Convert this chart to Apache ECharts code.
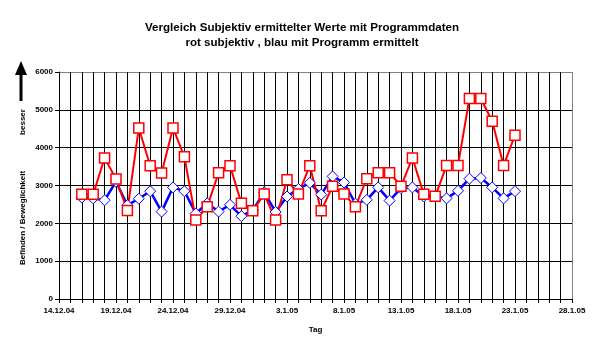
<!DOCTYPE html>
<html>
<head>
<meta charset="utf-8">
<script src="https://cdn.jsdelivr.net/npm/echarts@6/dist/echarts.min.js"></script>
<style>html,body{margin:0;padding:0;background:#fff}#c{width:604px;height:349px}</style>
</head>
<body>
<div id="c"></div>
<script>
// Days 14.12.04 .. 28.1.05
var categories = [
  "14.12.04","15.12.04","16.12.04","17.12.04","18.12.04","19.12.04","20.12.04","21.12.04","22.12.04","23.12.04",
  "24.12.04","25.12.04","26.12.04","27.12.04","28.12.04","29.12.04","30.12.04","31.12.04",
  "1.1.05","2.1.05","3.1.05","4.1.05","5.1.05","6.1.05","7.1.05","8.1.05","9.1.05","10.1.05",
  "11.1.05","12.1.05","13.1.05","14.1.05","15.1.05","16.1.05","17.1.05","18.1.05","19.1.05","20.1.05",
  "21.1.05","22.1.05","23.1.05","24.1.05","25.1.05","26.1.05","27.1.05","28.1.05"
];
// red: subjektiv (16.12.04 .. 23.1.05)
var subjektiv = [
  null, null,
  2770, 2770, 3730, 3170, 2340, 4520, 3520, 3330, 4520, 3760,
  2090, 2440, 3335, 3525, 2530, 2330, 2775, 2090, 3150, 2775,
  3525, 2330, 2980, 2775, 2440, 3180, 3340, 3340, 2980, 3730,
  2770, 2715, 3530, 3530, 5300, 5300, 4700, 3530, 4330,
  null, null, null, null, null
];
// blue: mit Programm ermittelt
var programm = [
  null, null,
  2680, 2660, 2610, 3100, 2480, 2650, 2850, 2310, 2950, 2850,
  2260, 2530, 2310, 2490, 2190, 2350, 2820, 2300, 2710, 2910,
  3070, 2760, 3240, 3080, 2520, 2620, 2950, 2600, 2930, 2950,
  2710, 2710, 2660, 2860, 3180, 3200, 2950, 2660, 2850,
  null, null, null, null, null
];
var yTicks = [0, 1000, 2000, 3000, 4000, 5000, 6000];

var xLineColors = categories.map(function (c, i) { return i === categories.length - 1 ? '#808080' : '#000000'; });
var yLineColors = yTicks.map(function (v, i) { return i === yTicks.length - 1 ? '#808080' : '#000000'; });

var FONT = 'Liberation Sans';
var chart = echarts.init(document.getElementById('c'), null, {renderer: 'canvas'});
chart.setOption({
  animation: false,
  backgroundColor: '#ffffff',
  title: {
    text: 'Vergleich Subjektiv ermittelter Werte mit Programmdaten\nrot subjektiv , blau mit Programm ermittelt',
    left: 'center',
    top: 15,
    textStyle: {fontFamily: FONT, fontSize: 11.6, fontWeight: 'bold', color: '#000', lineHeight: 15, align: 'center'}
  },
  grid: {left: 59, top: 72, width: 513, height: 227, show: false},
  xAxis: {
    type: 'category',
    data: categories,
    boundaryGap: false,
    name: 'Tag',
    nameLocation: 'middle',
    nameGap: 27,
    nameTextStyle: {fontFamily: FONT, fontSize: 8, fontWeight: 'bold', color: '#000'},
    axisLine: {show: true, lineStyle: {color: '#000', width: 1}},
    axisTick: {show: true, interval: 0, length: 4, lineStyle: {color: '#000'}},
    axisLabel: {interval: 4, margin: 8, fontFamily: FONT, fontSize: 8, fontWeight: 'bold', color: '#000', showMinLabel: true, showMaxLabel: true},
    splitLine: {show: true, interval: 0, lineStyle: {color: xLineColors, width: 1}}
  },
  yAxis: {
    type: 'value',
    min: 0, max: 6000, interval: 1000,
    axisLine: {show: true, lineStyle: {color: '#000', width: 1}},
    axisTick: {show: true, length: 4, lineStyle: {color: '#000'}},
    axisLabel: {margin: 6, fontFamily: FONT, fontSize: 8, fontWeight: 'bold', color: '#000', formatter: function (v) { return String(v); }},
    splitLine: {show: true, lineStyle: {color: yLineColors, width: 1}}
  },
  graphic: [
    {type: 'line', shape: {x1: 21, y1: 101, x2: 21, y2: 72}, style: {stroke: '#000', lineWidth: 3}},
    {type: 'polygon', shape: {points: [[21, 61], [15, 75], [27, 75]]}, style: {fill: '#000'}},
    {type: 'text', x: 23, y: 122, rotation: Math.PI / 2, style: {text: 'besser', fontFamily: FONT, fontSize: 8, fontWeight: 'bold', fill: '#000', align: 'center', verticalAlign: 'middle'}},
    {type: 'text', x: 23, y: 218, rotation: Math.PI / 2, style: {text: 'Befinden / Beweglichkeit', fontFamily: FONT, fontSize: 8, fontWeight: 'bold', fill: '#000', align: 'center', verticalAlign: 'middle'}}
  ],
  series: [
    {
      type: 'line', data: programm, connectNulls: false,
      symbol: 'diamond', symbolSize: 11, showAllSymbol: true,
      lineStyle: {color: '#0000ff', width: 2.5},
      itemStyle: {color: '#ffffff', borderColor: '#0000ff', borderWidth: 1}
    },
    {
      type: 'line', data: subjektiv, connectNulls: false,
      symbol: 'rect', symbolSize: 10, showAllSymbol: true,
      lineStyle: {color: '#ff0000', width: 2},
      itemStyle: {color: '#ffffff', borderColor: '#ff0000', borderWidth: 1.5}
    }
  ]
});
</script>
</body>
</html>
